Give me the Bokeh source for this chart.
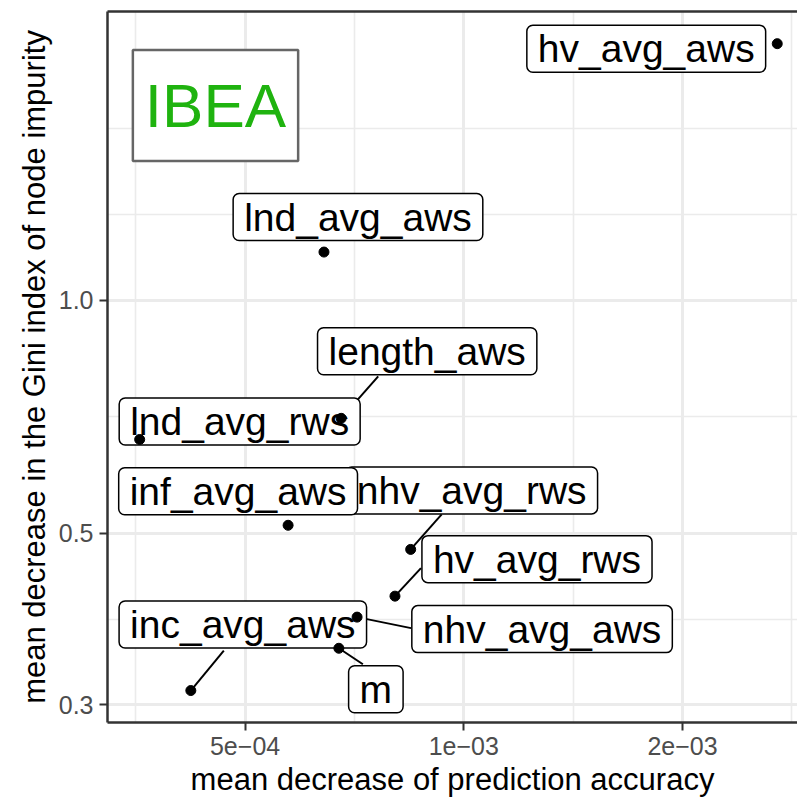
import math

from bokeh.core.properties import value
from bokeh.embed import file_html
from bokeh.models import ColumnDataSource, FixedTicker, LogAxis, Range1d
from bokeh.plotting import figure
from bokeh.resources import INLINE

# ---- data: variable importance for IBEA (random forest) ----
variables = ["hv_avg_aws", "lnd_avg_aws", "length_aws", "lnd_avg_rws", "nhv_avg_rws",
             "inf_avg_aws", "hv_avg_rws", "nhv_avg_aws", "m", "inc_avg_aws"]
mean_decrease_accuracy = [2.70e-3, 6.42e-4, 6.78e-4, 3.58e-4, 8.45e-4,
                          5.73e-4, 8.04e-4, 7.13e-4, 6.73e-4, 4.21e-4]
mean_decrease_gini = [2.148, 1.155, 0.704, 0.661, 0.4765,
                      0.512, 0.4146, 0.3895, 0.355, 0.313]

x_ticks = [5e-4, 1e-3, 2e-3]
x_tick_labels = ["5e\u221204", "1e\u221203", "2e\u221203"]
y_ticks = [0.3, 0.5, 1.0]
y_tick_labels = ["0.3", "0.5", "1.0"]

# ---- label layout (pixels relative to each point: +right, +down) ----
label_dx = [-131, 34, 86, 100, 61, -50, 142, 185, 37, 52]
label_dy = [5, -35, -67, -18, -59, -34, -37, 12, 41, -66]
# end of the leader line, pixels relative to the point (None: no leader)
leader_end = [None, None, (37, -42), None, (31, -35), None, (26, -28), (54, 11), (24, 16), (33, -40)]

# ---- canvas / frame geometry ----
W, H = 797, 799
FRAME_L, FRAME_T, FRAME_W, FRAME_H = 107, 11, 690, 711
x_lo, x_hi = 3.233e-4, 2.879e-3
y_lo, y_hi = 0.2846, 2.364
lx0, lx1 = math.log10(x_lo), math.log10(x_hi)
ly0, ly1 = math.log10(y_lo), math.log10(y_hi)


def to_px(xv, yv):
    px = FRAME_L + (math.log10(xv) - lx0) / (lx1 - lx0) * FRAME_W
    py = FRAME_T + (ly1 - math.log10(yv)) / (ly1 - ly0) * FRAME_H
    return px, py


def to_data(px, py):
    xv = 10 ** (lx0 + (px - FRAME_L) / FRAME_W * (lx1 - lx0))
    yv = 10 ** (ly1 - (py - FRAME_T) / FRAME_H * (ly1 - ly0))
    return xv, yv


def minor_positions(ticks, lo, hi):
    """Midpoints between log ticks, extended one step past the outer ticks."""
    logs = [math.log10(t) for t in ticks]
    step = logs[1] - logs[0]
    ext = [logs[0] - step] + logs + [logs[-1] + step]
    out = []
    for a, b in zip(ext[:-1], ext[1:]):
        out.extend([a, (a + b) / 2, b])
    vals = sorted(set(round(v, 6) for v in out) - set(round(v, 6) for v in logs))
    return [10 ** v for v in vals if lo <= 10 ** v <= hi]


x_minor = minor_positions(x_ticks, x_lo, x_hi)
y_minor = minor_positions(y_ticks, y_lo, y_hi)

# label centres and leader lines in data space
lab_x, lab_y = [], []
seg = dict(x0=[], y0=[], x1=[], y1=[])
for xv, yv, dx, dy, le in zip(mean_decrease_accuracy, mean_decrease_gini,
                              label_dx, label_dy, leader_end):
    px, py = to_px(xv, yv)
    lx, ly = to_data(px + dx, py + dy)
    lab_x.append(lx)
    lab_y.append(ly)
    if le is not None:
        ex, ey = to_data(px + le[0], py + le[1])
        seg["x0"].append(xv)
        seg["y0"].append(yv)
        seg["x1"].append(ex)
        seg["y1"].append(ey)

FONT = "Liberation Sans"

p = figure(width=W, height=H, x_axis_type="log", y_axis_type="log",
           x_range=Range1d(x_lo, x_hi), y_range=Range1d(y_lo, y_hi),
           output_backend="svg", toolbar_location=None,
           min_border_left=FRAME_L, min_border_right=0,
           min_border_top=FRAME_T, min_border_bottom=H - FRAME_T - FRAME_H)

p.background_fill_color = "white"
p.border_fill_color = "white"
p.outline_line_color = None

xt = FixedTicker(ticks=x_ticks, minor_ticks=x_minor)
yt = FixedTicker(ticks=y_ticks, minor_ticks=y_minor)
p.xaxis.ticker = xt
p.yaxis.ticker = yt
p.xgrid.ticker = xt
p.ygrid.ticker = yt
p.xaxis.major_label_overrides = dict(zip(x_ticks, x_tick_labels))
p.yaxis.major_label_overrides = dict(zip(y_ticks, y_tick_labels))

for g in (p.xgrid, p.ygrid):
    g.grid_line_color = "#EBEBEB"
    g.grid_line_width = 3
    g.minor_grid_line_color = "#EBEBEB"
    g.minor_grid_line_width = 1.6

for ax in (p.xaxis, p.yaxis):
    ax.axis_line_color = "#333333"
    ax.axis_line_width = 2.5
    ax.major_tick_line_color = "#333333"
    ax.major_tick_line_width = 2
    ax.major_tick_in = 0
    ax.major_tick_out = 8
    ax.minor_tick_line_color = None
    ax.major_label_text_font = FONT
    ax.major_label_text_font_size = "25px"
    ax.major_label_text_color = "#4D4D4D"
    ax.major_label_standoff = 6
    ax.axis_label_text_font = FONT
    ax.axis_label_text_font_size = "31px"
    ax.axis_label_text_font_style = "normal"
    ax.axis_label_text_color = "black"
    ax.axis_label_standoff = 4

p.xaxis.axis_label = "mean decrease of prediction accuracy"
p.yaxis.axis_label = "mean decrease in the Gini index of node impurity"

# top panel border: a bare axis line above the frame
top_border = LogAxis(ticker=FixedTicker(ticks=[]), axis_line_color="#333333",
                     axis_line_width=2.5, major_tick_line_color=None,
                     minor_tick_line_color=None, major_label_text_font_size="0px")
p.add_layout(top_border, "above")

# leader lines
p.segment(x0="x0", y0="y0", x1="x1", y1="y1", source=ColumnDataSource(seg),
          line_color="black", line_width=2)

# boxed labels
p.text(x="x", y="y", text="t",
       source=ColumnDataSource(dict(x=lab_x, y=lab_y, t=variables)),
       text_font=value(FONT), text_font_size="39px", text_color="black",
       text_align="center", text_baseline="middle",
       background_fill_color="white", border_line_color="black",
       border_line_width=1.5, border_radius=6,
       padding=dict(left=11, right=11, top=2, bottom=2))

# points on top
p.scatter(mean_decrease_accuracy, mean_decrease_gini, size=10, color="black")

# algorithm tag
tag_x, tag_y = to_data(215, 105)
p.text(x=[tag_x], y=[tag_y], text=["IBEA"],
       text_font=value(FONT), text_font_size="62px", text_color="#1FB30F",
       text_align="center", text_baseline="middle",
       background_fill_color="white", border_line_color="#666666",
       border_line_width=2.5,
       padding=dict(left=12, right=12, top=21, bottom=21))

open("out.html", "w").write(file_html(p, INLINE))
